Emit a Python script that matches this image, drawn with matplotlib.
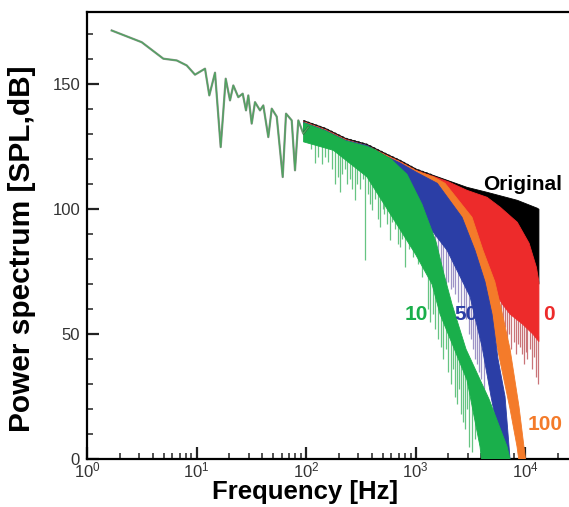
import matplotlib

matplotlib.use("Agg")
import matplotlib.pyplot as plt
import numpy as np
from matplotlib.ticker import LogLocator, MultipleLocator

plt.rcParams.update({
    "font.family": ["Liberation Sans", "DejaVu Sans"],
    "mathtext.fontset": "custom",
    "mathtext.rm": "Liberation Sans",
})

# low-frequency part of the spectrum (all cases coincide): peaks and dips
low_f = [1.68, 3.16, 4.98, 6.60, 8.14, 9.69, 11.96, 13.09, 14.76, 16.63, 18.48, 20.23,
         21.68, 24.08, 26.42, 28.32, 29.72, 31.92, 34.21, 38.01, 40.74, 45.26, 48.63,
         54.02, 61.27, 65.69, 74.03, 79.35, 85.06, 94.47, 104.95]
low_db = [171.6, 166.9, 160.3, 159.6, 157.6, 153.9, 156.3, 145.6, 154.7, 124.9, 152.3, 143.6,
          149.6, 144.9, 146.3, 139.6, 145.6, 134.3, 142.9, 139.6, 141.6, 128.9, 140.3,
          137.1, 112.9, 138.3, 135.6, 115.6, 135.6, 130.3, 132.9]

# dense part: upper / lower envelope of each case
orig_up_f = [95, 150, 230, 360, 550, 720, 1020, 1450, 2950, 4500, 8500, 13000, 13400]
orig_up_db = [135.5, 132.4, 128.4, 126, 122, 119.6, 116, 113.6, 108.8, 106.8, 103.6, 100.4, 100]
orig_lo_f = [95, 360, 1000, 2000, 13400]
orig_lo_db = [130, 120, 112, 110, 70]

red_up_f = [95, 150, 230, 360, 550, 720, 1020, 1450, 2000, 2950, 4500, 5950, 8500, 10900,
            12700, 13400]
red_up_db = [135.2, 132, 128, 125.6, 121.6, 119.2, 115.6, 113.2, 111, 107.6, 104.8, 100.8,
             94.8, 86.4, 76.8, 70.8]
red_lo_f = [95, 360, 1000, 2950, 4130, 5100, 6220, 7300, 9500, 11800, 13400]
red_lo_db = [130, 119, 108, 92, 78, 68, 62, 58, 54, 50, 47]

orange_up_f = [95, 150, 230, 360, 550, 720, 1020, 1450, 1860, 3280, 4130, 5300, 6220,
               7300, 8810, 10100]
orange_up_db = [135, 131.8, 127.8, 125.4, 121.4, 119, 115.4, 113, 110.4, 96.8, 83.6, 71,
                58, 44, 21, 0]
orange_lo_f = [95, 360, 1000, 2660, 3490, 4400, 5550, 7300, 8450, 8750]
orange_lo_db = [130, 119, 106, 92, 80, 68, 45, 20, 5, 0]

blue_up_f = [95, 150, 230, 360, 550, 720, 1020, 1580, 2660, 3490, 4310, 5000, 5670, 6570,
             7300]
blue_up_db = [134.8, 131.6, 127.6, 125.6, 121, 118.6, 114.8, 110.4, 96.8, 83.6, 71, 58,
              40, 25, 0]
blue_lo_f = [95, 360, 720, 1000, 1940, 3150, 4050, 4890, 6040, 6270]
blue_lo_db = [130, 118, 105, 100, 83.6, 65, 45, 25, 5, 0]

green_up_f = [95, 150, 230, 360, 420, 600, 836, 1146, 1539, 1820, 2153, 2891, 4690, 6850,
              7300]
green_up_db = [134.6, 131.4, 127.4, 125.2, 124, 120, 114, 102, 87, 74, 62, 44, 24, 5, 0]
green_lo_f = [95, 178, 360, 720, 1000, 1416, 1675, 2953, 3880, 4000]
green_lo_db = [127, 123.6, 113, 92, 82, 70, 58, 31.6, 5, 0]

# deep narrow dips below each band (frequency, depth)
green_spk_f = [110, 121, 130, 140, 150, 160, 172, 184, 195, 204, 215, 225, 238, 250, 265,
               280, 295, 310, 330, 345, 365, 385, 400, 430, 455, 475, 500, 520, 550, 580,
               615, 650, 690, 720, 760, 800, 870, 950, 1050, 1150, 1300, 1350, 1450, 1500,
               1600, 1700, 1800, 1900, 2000, 2100, 2200, 2300, 2400, 2500, 2600, 2700,
               2850, 2950, 3100, 3300, 3500]
green_spk_db = [124, 118.4, 121, 118, 121, 119, 116, 110, 113, 107, 114, 116, 110, 112, 108,
                103.6, 110, 108, 112, 79.6, 106, 102, 99.6, 104, 96, 92.8, 100, 98, 94,
                87.6, 95, 92, 86, 84.8, 88, 76.8, 84, 80.8, 78, 72.8, 60, 55, 58, 52,
                48, 45, 40, 44, 35, 30, 36, 25, 22, 28, 18, 15, 12, 20, 5, 3, 8]
blue_spk_f = [1100, 1200, 1300, 1400, 1500, 1600, 1700, 1800, 1900, 2000, 2100, 2200, 2300,
              2450, 2600, 2750, 2900, 3050, 3200, 3350, 3500, 3650, 3800, 4000, 4200]
blue_spk_db = [90, 88, 85, 82, 80, 76, 72, 74, 70, 71, 68, 69, 66, 63, 60, 58, 56, 50, 48,
               44, 40, 38, 35, 32, 28]
red_spk_f = [4800, 5050, 5300, 5550, 5800, 6050, 6300, 6600, 6900, 7200, 7500, 7850, 8200,
             8600, 9000, 9400, 9800, 10200, 10500, 11000, 11500, 12000, 12500, 13200]
red_spk_db = [60, 62, 56, 58, 52, 55, 50, 53, 48, 50, 44, 47, 42, 46, 45, 42, 38, 43, 40,
              44, 36, 41, 33, 30]

labels = ["Original", "10", "50", "0", "100"]

C_BLACK, C_RED, C_ORANGE, C_BLUE, C_GREEN = "#000000", "#ed2b2b", "#f47b2a", "#2b3ea6", "#1aaf4b"


def band(ax, uf, ud, lf, ld, color, z):
    xs = np.r_[uf, lf[::-1]]
    ys = np.r_[ud, ld[::-1]]
    ax.fill(xs, ys, color=color, lw=0.6, ec=color, zorder=z)


def spikes(ax, sf, sd, lf, ld, color, z):
    sf = np.asarray(sf, float)
    top = np.interp(np.log10(sf), np.log10(lf), ld) + 2
    ax.vlines(sf, sd, top, color=color, lw=0.9, zorder=z)


fig = plt.figure(figsize=(5.69, 5.07), dpi=100)
ax = fig.add_axes([87 / 569, 48 / 507, 488 / 569, 447 / 507])

band(ax, orig_up_f, orig_up_db, orig_lo_f, orig_lo_db, C_BLACK, 2)
spikes(ax, red_spk_f, red_spk_db, red_lo_f, red_lo_db, "#c97478", 2.5)
band(ax, red_up_f, red_up_db, red_lo_f, red_lo_db, C_RED, 3)
band(ax, orange_up_f, orange_up_db, orange_lo_f, orange_lo_db, C_ORANGE, 4)
spikes(ax, blue_spk_f, blue_spk_db, blue_lo_f, blue_lo_db, "#9d93c6", 4.5)
band(ax, blue_up_f, blue_up_db, blue_lo_f, blue_lo_db, C_BLUE, 5)
spikes(ax, green_spk_f, green_spk_db, green_lo_f, green_lo_db, "#66c482", 5.5)
band(ax, green_up_f, green_up_db, green_lo_f, green_lo_db, C_GREEN, 6)
# dark jagged crest of the original spectrum above the coloured mass
ax.plot(orig_up_f[:8], orig_up_db[:8], color="#1a1a1a", lw=1.0, ls=(0, (1.5, 1.5)), zorder=6.3)
ax.plot(low_f, low_db, color="#2f3a2c", lw=1.6, alpha=0.55, zorder=6.5)
ax.plot(low_f, low_db, color="#4fa460", lw=0.9, zorder=7)

ax.set_xscale("log")
ax.set_xlim(1, 28600)
ax.set_ylim(0, 179)
ax.xaxis.set_major_locator(LogLocator(base=10, numticks=10))
ax.xaxis.set_minor_locator(LogLocator(base=10, subs=np.arange(2, 10), numticks=20))
ax.yaxis.set_major_locator(MultipleLocator(50))
ax.yaxis.set_minor_locator(MultipleLocator(10))
ax.tick_params(which="both", direction="in", top=False, right=False, colors="#222222",
               labelsize=12, labelcolor="#333333")
ax.tick_params(which="major", length=8.5, width=1.6)
ax.tick_params(which="minor", length=4.5, width=1.1)
ax.tick_params(axis="x", pad=1)
ax.tick_params(axis="y", pad=5)
for side in ("left", "bottom", "top"):
    ax.spines[side].set_linewidth(1.6)
ax.spines["right"].set_visible(False)

ax.set_xlabel("Frequency [Hz]", fontsize=18.5, fontweight="bold", va="center")
ax.xaxis.set_label_coords((305 - 87) / 488, (459 - 492) / 447)
ax.set_ylabel("Power spectrum [SPL,dB]", fontsize=21.5, fontweight="bold", va="center")
ax.yaxis.set_label_coords((22 - 87) / 488, (459 - 249) / 447)

# case labels, placed in pixel-derived data positions
lab_pos = [(523, 184), (416, 314), (466, 314), (549, 315), (545, 424)]
lab_col = [C_BLACK, C_GREEN, C_BLUE, C_RED, C_ORANGE]
for txt, (px, py), col in zip(labels, lab_pos, lab_col):
    fig.text(px / 569, 1 - py / 507, txt, color=col, fontsize=15, fontweight="bold",
             ha="center", va="center", zorder=10)

fig.savefig("out.png", dpi=100)
